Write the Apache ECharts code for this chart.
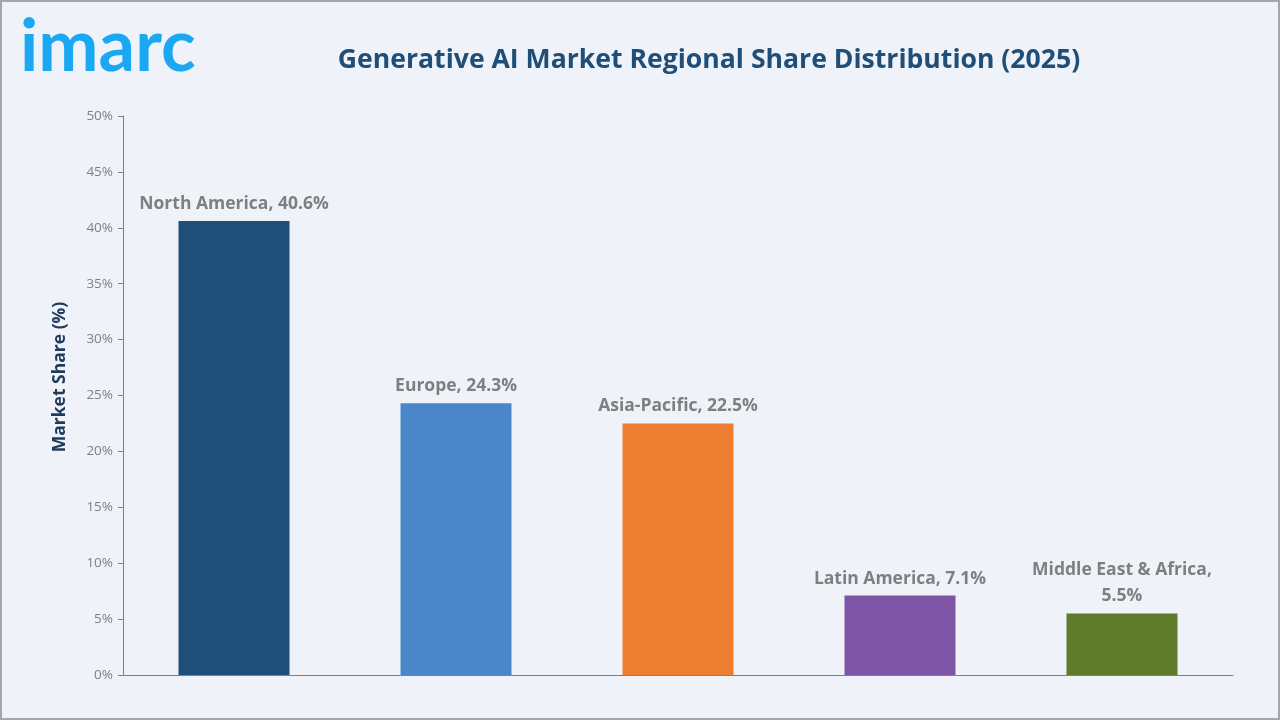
<!DOCTYPE html>
<html><head><meta charset="utf-8">
<script src="https://cdn.jsdelivr.net/npm/echarts@6/dist/echarts.min.js"></script>
<style>html,body{margin:0;padding:0;background:#eff3f9;}#c{width:1280px;height:720px;box-sizing:border-box;border:2px solid #a6a6a6;}</style>
</head><body><div id="c"></div>
<script>
const categories = ['North America', 'Europe', 'Asia-Pacific', 'Latin America', 'Middle East & Africa'];
const labelTexts = ['North America, 40.6%', 'Europe, 24.3%', 'Asia-Pacific, 22.5%', 'Latin America, 7.1%', 'Middle East & Africa,\n5.5%'];
const shares = [40.6, 24.3, 22.5, 7.1, 5.5];
const barColors = ['#1f4e79', '#4a86c8', '#ed7d31', '#7f55a7', '#5e7b2b'];
const yTicks = [0, 5, 10, 15, 20, 25, 30, 35, 40, 45, 50];

const chart = echarts.init(document.getElementById('c'));
chart.setOption({
  backgroundColor: '#eff3f9',
  animation: false,
  grid: {left: 121, right: 45, top: 114, bottom: 43},
  title: {
    text: 'Generative AI Market Regional Share Distribution (2025)',
    left: 702, top: 40, textAlign: 'center',
    textStyle: {fontFamily: 'Open Sans', fontWeight: 'bold', fontSize: 26.6, color: '#1f4e79'}
  },
  graphic: [
    {type: 'text', left: 18, top: 10, style: {text: 'imarc', fontFamily: 'Lato', fontWeight: 'bold', fontSize: 72, fill: '#1ca7f2'}},
    {type: 'text', x: 58, y: 375, rotation: Math.PI / 2, style: {text: 'Market Share (%)', fontFamily: 'Open Sans', fontWeight: 'bold', fontSize: 17.5, fill: '#1f3b5c', align: 'center', verticalAlign: 'middle'}}
  ],
  xAxis: {
    type: 'category', data: categories,
    axisLine: {lineStyle: {color: '#7f7f7f', width: 1}},
    axisTick: {show: false}, axisLabel: {show: false}
  },
  yAxis: {
    type: 'value', min: 0, max: 50, interval: 5,
    splitLine: {show: false},
    axisLine: {show: true, lineStyle: {color: '#7f7f7f'}},
    axisTick: {show: true, length: 5, lineStyle: {color: '#7f7f7f'}},
    axisLabel: {formatter: v => yTicks.includes(v) ? v + '%' : '', color: '#7f7f7f', fontFamily: 'Open Sans', fontSize: 13.5, margin: 10}
  },
  series: [{
    type: 'bar', barWidth: '50%',
    data: shares.map((v, i) => ({value: v, itemStyle: {color: barColors[i]}, label: {formatter: labelTexts[i]}})),
    label: {show: true, position: 'top', distance: 4, color: '#7f7f7f', fontFamily: 'Open Sans', fontWeight: 'bold', fontSize: 17.5, lineHeight: 26}
  }]
});
</script></body></html>
